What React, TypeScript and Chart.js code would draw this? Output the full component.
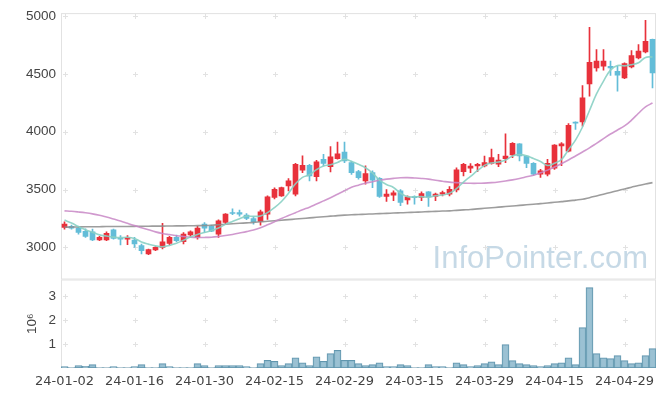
import React, { useEffect, useRef } from 'react';
import { Chart, registerables } from 'chart.js';

Chart.register(...registerables);

const dates = [
  '24-01-02','24-01-03','24-01-04','24-01-05','24-01-08','24-01-09','24-01-10','24-01-11','24-01-12','24-01-15',
  '24-01-16','24-01-17','24-01-18','24-01-19','24-01-22','24-01-23','24-01-24','24-01-25','24-01-26','24-01-29',
  '24-01-30','24-01-31','24-02-01','24-02-02','24-02-05','24-02-06','24-02-07','24-02-08','24-02-13','24-02-14',
  '24-02-15','24-02-16','24-02-19','24-02-20','24-02-21','24-02-22','24-02-23','24-02-26','24-02-27','24-02-28',
  '24-02-29','24-03-04','24-03-05','24-03-06','24-03-07','24-03-08','24-03-11','24-03-12','24-03-13','24-03-14',
  '24-03-15','24-03-18','24-03-19','24-03-20','24-03-21','24-03-22','24-03-25','24-03-26','24-03-27','24-03-28',
  '24-03-29','24-04-01','24-04-02','24-04-03','24-04-04','24-04-05','24-04-08','24-04-09','24-04-11','24-04-12',
  '24-04-15','24-04-16','24-04-17','24-04-18','24-04-19','24-04-22','24-04-23','24-04-24','24-04-25','24-04-26',
  '24-04-29','24-04-30','24-05-02','24-05-03','24-05-07',
];

const opens = [
  3172, 3181, 3167, 3138, 3135, 3064, 3064, 3152, 3081, 3072,
  3064, 3015, 2943, 2977, 3000, 3035, 3086, 3049, 3107, 3086,
  3201, 3181, 3115, 3216, 3302, 3302, 3279, 3250, 3225, 3288,
  3431, 3446, 3532, 3460, 3667, 3710, 3612, 3762, 3698, 3767,
  3825, 3733, 3655, 3575, 3647, 3598, 3440, 3452, 3489, 3411,
  3440, 3431, 3480, 3440, 3460, 3460, 3497, 3655, 3684, 3704,
  3704, 3727, 3719, 3767, 3799, 3896, 3790, 3727, 3633, 3633,
  3684, 3877, 3833, 4084, 4084, 4414, 4552, 4566, 4566, 4523,
  4466, 4560, 4638, 4690, 4799,
];
const highs = [
  3222, 3193, 3181, 3160, 3158, 3095, 3135, 3158, 3101, 3101,
  3086, 3029, 2986, 3006, 3207, 3095, 3107, 3129, 3144, 3181,
  3215, 3193, 3239, 3293, 3334, 3322, 3293, 3267, 3322, 3445,
  3515, 3522, 3595, 3727, 3791, 3719, 3753, 3805, 3872, 3911,
  3911, 3747, 3667, 3705, 3661, 3603, 3500, 3489, 3500, 3445,
  3445, 3480, 3482, 3470, 3486, 3526, 3687, 3727, 3724, 3727,
  3790, 3850, 3805, 3983, 3906, 3898, 3792, 3733, 3676, 3762,
  3890, 3906, 4070, 4086, 4400, 4902, 4710, 4710, 4610, 4566,
  4595, 4701, 4753, 4963, 4801,
];
const lows = [
  3158, 3158, 3115, 3086, 3058, 3058, 3058, 3072, 3021, 3023,
  3000, 2943, 2938, 2972, 2986, 3021, 3049, 3029, 3086, 3072,
  3129, 3135, 3086, 3201, 3282, 3270, 3239, 3201, 3193, 3242,
  3420, 3440, 3489, 3445, 3647, 3575, 3575, 3705, 3653, 3762,
  3733, 3632, 3589, 3546, 3517, 3431, 3397, 3403, 3360, 3374,
  3374, 3403, 3354, 3403, 3446, 3446, 3480, 3618, 3646, 3655,
  3695, 3719, 3698, 3733, 3776, 3747, 3690, 3623, 3604, 3618,
  3675, 3707, 3825, 4020, 4049, 4307, 4523, 4532, 4486, 4351,
  4460, 4552, 4630, 4681, 4379,
];
const closes = [
  3202, 3167, 3129, 3095, 3064, 3086, 3121, 3078, 3072, 3086,
  3029, 2972, 2980, 3000, 3049, 3086, 3058, 3115, 3135, 3167,
  3167, 3141, 3230, 3288, 3293, 3288, 3250, 3222, 3307, 3437,
  3503, 3517, 3575, 3719, 3710, 3618, 3739, 3727, 3782, 3810,
  3747, 3647, 3603, 3638, 3581, 3440, 3460, 3472, 3388, 3437,
  3430, 3466, 3437, 3460, 3474, 3503, 3670, 3719, 3704, 3719,
  3733, 3776, 3756, 3790, 3900, 3790, 3727, 3633, 3661, 3727,
  3885, 3896, 4055, 4075, 4293, 4601, 4610, 4610, 4552, 4489,
  4589, 4658, 4698, 4782, 4509,
];

const volumes = [
  60000, 15000, 100000, 70000, 140000, 15000, 15000, 56000, 15000, 15000,
  56000, 140000, 15000, 15000, 180000, 56000, 15000, 15000, 15000, 180000,
  100000, 15000, 100000, 100000, 100000, 100000, 56000, 15000, 180000, 320000,
  280000, 100000, 180000, 430000, 220000, 100000, 470000, 280000, 600000, 740000,
  320000, 320000, 180000, 100000, 140000, 220000, 56000, 56000, 140000, 100000,
  15000, 15000, 140000, 56000, 56000, 15000, 220000, 140000, 56000, 100000,
  180000, 260000, 140000, 980000, 310000, 180000, 140000, 100000, 56000, 100000,
  180000, 220000, 430000, 140000, 1690000, 3360000, 600000, 430000, 390000, 520000,
  310000, 180000, 220000, 520000, 810000,
];

const ma5 = [
  3236, 3210, 3180, 3152, 3131, 3108, 3099, 3089, 3084, 3087,
  3077, 3047, 3028, 3013, 3006, 3017, 3035, 3062, 3089, 3112,
  3128, 3145, 3168, 3199, 3224, 3248, 3270, 3268, 3272, 3301,
  3344, 3397, 3468, 3550, 3605, 3628, 3672, 3703, 3715, 3735,
  3761, 3743, 3718, 3689, 3643, 3582, 3544, 3518, 3468, 3439,
  3437, 3439, 3432, 3446, 3453, 3468, 3509, 3565, 3614, 3663,
  3709, 3730, 3738, 3755, 3791, 3802, 3793, 3768, 3742, 3708,
  3727, 3760, 3845, 3928, 4041, 4184, 4327, 4438, 4533, 4572,
  4570, 4580, 4597, 4643, 4647,
];
const ma20 = [
  3316, 3312, 3306, 3299, 3290, 3278, 3262, 3245, 3228, 3208,
  3188, 3170, 3152, 3134, 3120, 3110, 3101, 3094, 3088, 3086,
  3086, 3088, 3094, 3102, 3112, 3124, 3136, 3150, 3170, 3195,
  3222, 3250, 3275, 3300, 3325, 3348, 3375, 3402, 3430, 3460,
  3490, 3520, 3538, 3555, 3568, 3580, 3590, 3597, 3602, 3603,
  3600, 3596, 3590, 3580, 3572, 3564, 3560, 3556, 3554, 3554,
  3556, 3560, 3566, 3574, 3584, 3596, 3610, 3624, 3645, 3668,
  3695, 3725, 3756, 3790, 3825, 3860, 3900, 3940, 3980, 4015,
  4050, 4100, 4160, 4215, 4248,
];
const ma60 = [
  3175, 3176, 3177, 3178, 3178, 3179, 3180, 3180, 3181, 3181,
  3182, 3183, 3183, 3184, 3184, 3185, 3186, 3186, 3187, 3188,
  3189, 3192, 3196, 3200, 3204, 3208, 3212, 3216, 3221, 3226,
  3230, 3235, 3240, 3245, 3250, 3255, 3260, 3265, 3270, 3275,
  3279, 3282, 3284, 3287, 3289, 3292, 3294, 3297, 3299, 3301,
  3304, 3306, 3309, 3311, 3314, 3316, 3320, 3324, 3328, 3333,
  3338, 3343, 3348, 3353, 3358, 3363, 3368, 3373, 3378, 3384,
  3390, 3396, 3402, 3409, 3416, 3430, 3445, 3460, 3475, 3490,
  3505, 3520, 3535, 3548, 3560,
];

const priceTicks = [3000, 3500, 4000, 4500, 5000];
const volumeTicks = [1000000, 2000000, 3000000];
const dateLabelEvery = 10;

const UP = '#e8313b';
const DOWN = '#63bdd8';
const GRID = '#e2e2e2';
const TEXT = '#444444';

const candleColors = closes.map((c, i) => (c >= opens[i] ? UP : DOWN));

const panelPlugin = {
  id: 'panelDecor',
  beforeDatasetsDraw(chart: any) {
    const { ctx } = chart;
    const xs = chart.scales.x;
    const yp = chart.scales.y;
    const yv = chart.scales.yv;
    ctx.save();
    ctx.font = '31px "Liberation Sans", Arial, sans-serif';
    ctx.fillStyle = 'rgba(176,203,220,0.72)';
    ctx.textAlign = 'right';
    ctx.textBaseline = 'alphabetic';
    ctx.fillText('InfoPointer.com', xs.right - 8, yp.bottom - 12);
    ctx.strokeStyle = GRID;
    ctx.lineWidth = 1;
    const xTicks = xs.ticks.map((t: any) => Math.round(xs.getPixelForValue(t.value)) + 0.5);
    for (const s of [yp, yv]) {
      for (const t of s.ticks) {
        const py = Math.round(s.getPixelForValue(t.value)) + 0.5;
        for (const px of xTicks) {
          ctx.beginPath();
          ctx.moveTo(px - 2.5, py);
          ctx.lineTo(px + 2.5, py);
          ctx.moveTo(px, py - 2.5);
          ctx.lineTo(px, py + 2.5);
          ctx.stroke();
        }
      }
    }
    for (const s of [yp, yv]) {
      ctx.strokeRect(xs.left + 0.5, s.top + 0.5, xs.right - xs.left - 1, s.bottom - s.top - 1);
    }
    ctx.restore();
  },
};

export default function App() {
  const ref = useRef<HTMLCanvasElement | null>(null);
  useEffect(() => {
    document.body.style.margin = '0';
    const canvas = ref.current;
    if (!canvas) return;
    const xFont = { family: '"DejaVu Sans", sans-serif', size: 13 };
    const yFont = { family: '"Liberation Sans", Arial, sans-serif', size: 13.5 };
    const chart = new Chart(canvas, {
      type: 'bar',
      data: {
        labels: dates,
        datasets: [
          {
            type: 'line', label: 'MA5', data: ma5, yAxisID: 'y',
            borderColor: 'rgba(138,208,196,0.9)', borderWidth: 1.6, pointRadius: 0, tension: 0.4, fill: false,
          } as any,
          {
            type: 'line', label: 'MA20', data: ma20, yAxisID: 'y',
            borderColor: 'rgba(200,135,198,0.85)', borderWidth: 1.6, pointRadius: 0, tension: 0.4, fill: false,
          } as any,
          {
            type: 'line', label: 'MA60', data: ma60, yAxisID: 'y',
            borderColor: 'rgba(140,140,140,0.85)', borderWidth: 1.6, pointRadius: 0, tension: 0.4, fill: false,
          } as any,
          {
            type: 'bar', label: 'body', yAxisID: 'y',
            data: opens.map((o, i) => [Math.min(o, closes[i]), Math.max(o, closes[i])]),
            backgroundColor: candleColors, borderWidth: 0, barThickness: 5, grouped: false,
            borderSkipped: false,
          } as any,
          {
            type: 'bar', label: 'wick', yAxisID: 'y',
            data: lows.map((l, i) => [l, highs[i]]),
            backgroundColor: candleColors, borderWidth: 0, barThickness: 1, grouped: false,
            borderSkipped: false,
          } as any,
          {
            type: 'bar', label: 'volume', yAxisID: 'yv',
            data: volumes,
            backgroundColor: 'rgba(146,188,207,0.92)', borderColor: '#6196ae', borderWidth: 1,
            barPercentage: 1, categoryPercentage: 1, grouped: false, borderSkipped: false,
          } as any,
        ],
      },
      options: {
        animation: false,
        responsive: false,
        maintainAspectRatio: false,
        layout: { padding: { top: 11, right: 9, bottom: 0, left: 0 } },
        plugins: { legend: { display: false }, tooltip: { enabled: false } },
        scales: {
          x: {
            type: 'category',
            offset: true,
            grid: { display: false, drawTicks: false },
            border: { display: false },
            ticks: { autoSkip: false, maxRotation: 0, minRotation: 0, padding: 6, color: TEXT, font: xFont },
            afterBuildTicks: (s: any) => {
              s.ticks = s.ticks.filter((t: any) => t.value % dateLabelEvery === 0);
            },
            afterFit: (s: any) => { s.height = 29; },
          },
          y: {
            type: 'linear',
            position: 'left',
            stack: 'panels',
            stackWeight: 268,
            weight: 2,
            min: 2722,
            max: 5026,
            grid: { display: false, drawTicks: false },
            border: { display: false },
            ticks: { padding: 5, color: TEXT, font: yFont, callback: (v: any) => String(v) },
            afterBuildTicks: (s: any) => { s.ticks = priceTicks.map((v) => ({ value: v })); },
            afterFit: (s: any) => { s.width = 61; },
          },
          yv: {
            type: 'linear',
            position: 'left',
            stack: 'panels',
            stackWeight: 89,
            weight: 1,
            min: 0,
            max: 3700000,
            grid: { display: false, drawTicks: false },
            border: { display: false },
            ticks: { padding: 5, color: TEXT, font: yFont, callback: (v: any) => String(Number(v) / 1000000) },
            title: { display: true, text: '10⁶', color: TEXT, font: yFont, padding: { top: 24, bottom: 0 } },
            afterBuildTicks: (s: any) => { s.ticks = volumeTicks.map((v) => ({ value: v })); },
            afterFit: (s: any) => { s.width = 61; },
          },
        },
      } as any,
      plugins: [panelPlugin],
    });
    return () => chart.destroy();
  }, []);
  return (
    <div style={{ width: 665, height: 397, position: 'relative', background: '#fff' }}>
      <canvas ref={ref} width={665} height={397} style={{ display: 'block' }} />
    </div>
  );
}
